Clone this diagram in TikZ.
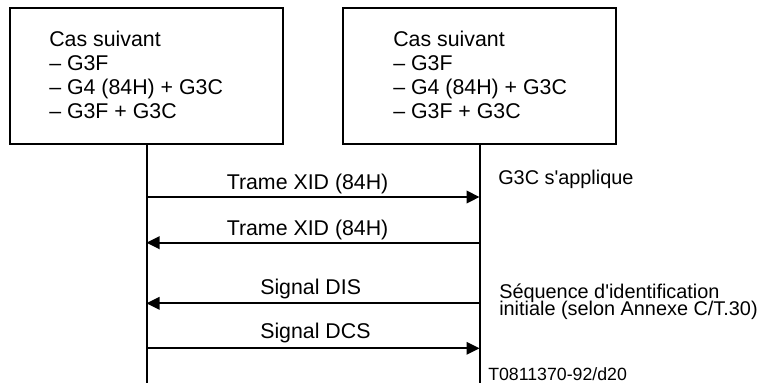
\documentclass[tikz,border=0pt]{standalone}
\usepackage{fontspec}
\setmainfont{Liberation Sans}[Ligatures=TeXOff]
\usetikzlibrary{arrows.meta}
\begin{document}
\begin{tikzpicture}[x=0.75pt,y=-0.75pt,
  station/.style={draw,line width=0.9pt,minimum width=204.75pt,minimum height=102pt,inner sep=0pt},
  boxtext/.style={anchor=north west,inner sep=0pt,align=left,font=\fontsize{16pt}{18pt}\selectfont},
  lifeline/.style={line width=1.5pt},
  msg/.style={line width=1.5pt,-{Triangle[length=9.75pt,width=9.4pt]}},
  msglabel/.style={anchor=base west,inner sep=0pt,font=\fontsize{16pt}{18pt}\selectfont},
  note/.style={anchor=base west,inner sep=0pt,font=\fontsize{14.9pt}{17pt}\selectfont},
  ref/.style={anchor=base west,inner sep=0pt,font=\fontsize{13.3pt}{15pt}\selectfont}]
  \useasboundingbox (0,0) rectangle (766,383);

  % the two stations
  \node[station] (boxA) at (146.5,76) {};
  \node[station] (boxB) at (479.5,76) {};
  \node[boxtext] (txtA) at (49,31) {Cas suivant\\– G3F\\– G4 (84H) + G3C\\– G3F + G3C};
  \node[boxtext] (txtB) at (393,31) {Cas suivant\\– G3F\\– G4 (84H) + G3C\\– G3F + G3C};

  % lifelines
  \coordinate (endA) at (146.5,383);
  \coordinate (endB) at (479.5,383);
  \draw[lifeline] (boxA.south) -- (endA);
  \draw[lifeline] (boxB.south) -- (endB);

  % message end points on the lifelines
  \coordinate (m1A) at (146.5,197);   \coordinate (m1B) at (479.5,197);
  \coordinate (m2A) at (146.5,242.7); \coordinate (m2B) at (479.5,242.7);
  \coordinate (m3A) at (146.5,303.3); \coordinate (m3B) at (479.5,303.3);
  \coordinate (m4A) at (146.5,348.3); \coordinate (m4B) at (479.5,348.3);

  \draw[msg] (m1A) -- (m1B);
  \draw[msg] (m2B) -- (m2A);
  \draw[msg] (m3B) -- (m3A);
  \draw[msg] (m4A) -- (m4B);

  \node[msglabel] (l1) at (226.5,189) {Trame XID (84H)};
  \node[msglabel] (l2) at (226.5,235) {Trame XID (84H)};
  \node[msglabel] (l3) at (260,294) {Signal DIS};
  \node[msglabel] (l4) at (260,338) {Signal DCS};

  % side notes
  \node[note] (n1) at (498,184) {G3C s'applique};
  \node[note] (n2a) at (499,298.3) {Séquence d'identification};
  \node[note] (n2b) at (499,315) {initiale (selon Annexe C/T.30)};
  \node[ref] (figref) at (488,380) {T0811370-92/d20};
\end{tikzpicture}
\end{document}
